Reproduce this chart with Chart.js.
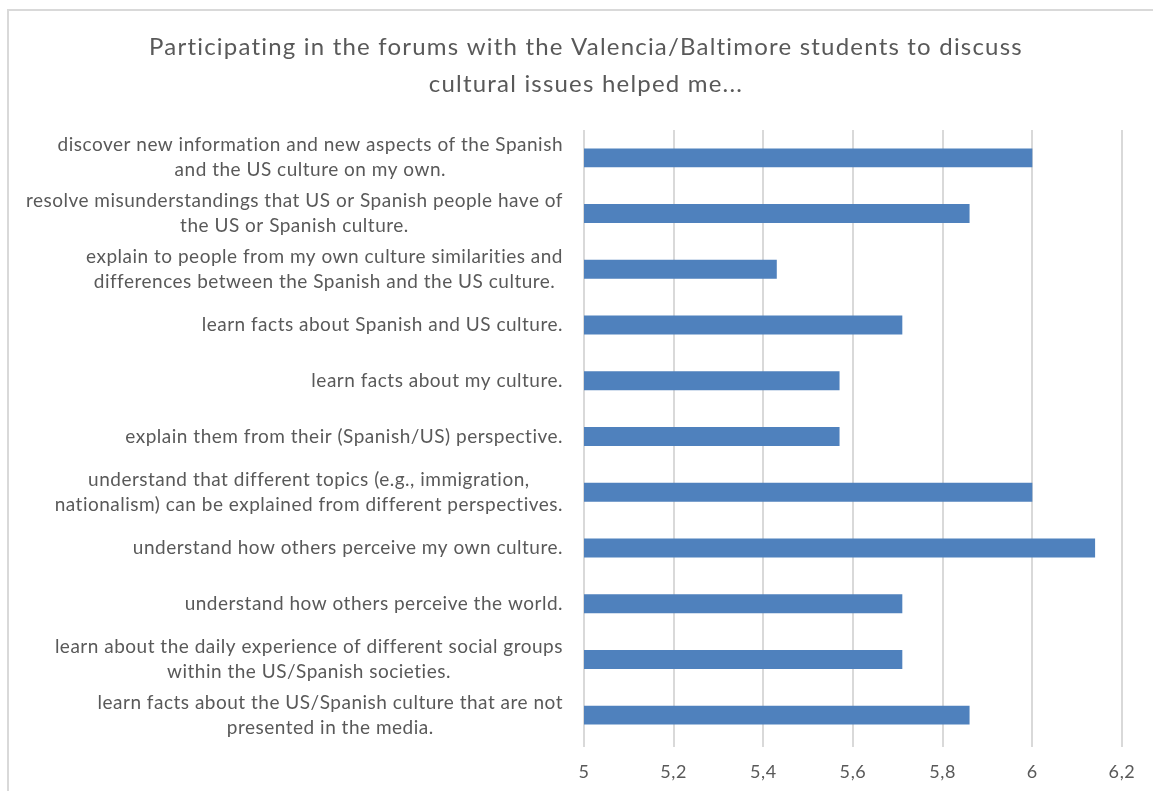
<!DOCTYPE html>
<html>
<head>
<meta charset="utf-8">
<script src="https://cdn.jsdelivr.net/npm/chart.js@4.4.1/dist/chart.umd.min.js"></script>
<style>
    body { margin: 0; background: #fff; overflow: hidden; }
    #wrap { position: relative; width: 1153px; height: 791px; }
    #frame {
        position: absolute; left: 7px; top: 9px; width: 1200px; height: 800px;
        border-left: 2px solid #d9d9d9; border-top: 2px solid #d9d9d9;
        pointer-events: none;
    }
</style>
</head>
<body>
<div id="wrap">
    <canvas id="chart" width="1153" height="791"></canvas>
    <div id="frame"></div>
</div>
<script>
// datos
const categorias = [
    ['discover new information and new aspects of the Spanish', 'and the US culture on my own.'],
    ['resolve misunderstandings that US or Spanish people have of', 'the US or Spanish culture.'],
    ['explain to people from my own culture similarities and', 'differences between the Spanish and the US culture.'],
    ['learn facts about Spanish and US culture.'],
    ['learn facts about my culture.'],
    ['explain them from their (Spanish/US) perspective.'],
    ['understand that different topics (e.g., immigration,', 'nationalism) can be explained from different perspectives.'],
    ['understand how others perceive my own culture.'],
    ['understand how others perceive the world.'],
    ['learn about the daily experience of different social groups', 'within the US/Spanish societies.'],
    ['learn facts about the US/Spanish culture that are not', 'presented in the media.']
];
const valores = [6.0, 5.86, 5.43, 5.71, 5.57, 5.57, 6.0, 6.14, 5.71, 5.71, 5.86];
const ticksX = ['5', '5,2', '5,4', '5,6', '5,8', '6', '6,2'];
const titulo = [
    'Participating in the forums with the Valencia/Baltimore students to discuss',
    'cultural issues helped me...'
];

const fuente = 'Lato, "Open Sans", sans-serif';
const gris = '#595959';

// espaciado de letras parecido a Calibri en Excel
const espaciado = {
    id: 'espaciado',
    beforeDraw(chart) { chart.ctx.letterSpacing = '0.6px'; }
};

// titulo y etiquetas del eje Y centradas como en Excel
const textos = {
    id: 'textos',
    afterDraw(chart) {
        const ctx = chart.ctx;
        const y = chart.scales.y;
        ctx.save();
        ctx.fillStyle = gris;
        ctx.textAlign = 'center';
        ctx.textBaseline = 'middle';

        ctx.font = '24px ' + fuente;
        ctx.letterSpacing = '1.2px';
        titulo.forEach(function(t, j) {
            ctx.fillText(t, 586, 47 + j * 37);
        });

        const derecha = chart.chartArea.left - 21;
        const alto = 25;
        ctx.font = '19px ' + fuente;
        ctx.letterSpacing = '0.5px';
        categorias.forEach(function(lineas, i) {
            const centroY = y.getPixelForTick(i);
            let ancho = 0;
            lineas.forEach(function(l) { ancho = Math.max(ancho, ctx.measureText(l).width); });
            const cx = derecha - ancho / 2;
            const inicio = centroY - (lineas.length - 1) * alto / 2;
            lineas.forEach(function(l, j) {
                ctx.fillText(l, cx, inicio + j * alto);
            });
        });
        ctx.restore();
    }
};

const ctx = document.getElementById('chart').getContext('2d');
const grafico = new Chart(ctx, {
    type: 'bar',
    data: {
        labels: categorias,
        datasets: [{
            data: valores,
            backgroundColor: '#4f81bd',
            borderWidth: 0,
            barPercentage: 0.34,
            categoryPercentage: 1
        }]
    },
    plugins: [espaciado, textos],
    options: {
        indexAxis: 'y',
        responsive: false,
        animation: false,
        layout: { padding: { left: 0, right: 31, top: 130, bottom: 0 } },
        plugins: {
            legend: { display: false },
            tooltip: { enabled: false },
            title: { display: false }
        },
        scales: {
            x: {
                min: 5,
                max: 6.2,
                ticks: {
                    stepSize: 0.2,
                    color: gris,
                    padding: 14,
                    font: { family: fuente, size: 18 },
                    callback: function(v, i) { return ticksX[i]; }
                },
                grid: { color: '#d9d9d9', lineWidth: 2, tickLength: 4 },
                border: { display: false },
                afterFit: function(s) { s.height = 48; }
            },
            y: {
                ticks: { display: false },
                grid: { display: false },
                border: { display: false },
                afterFit: function(s) { s.width = 584; }
            }
        }
    }
});
</script>
</body>
</html>
